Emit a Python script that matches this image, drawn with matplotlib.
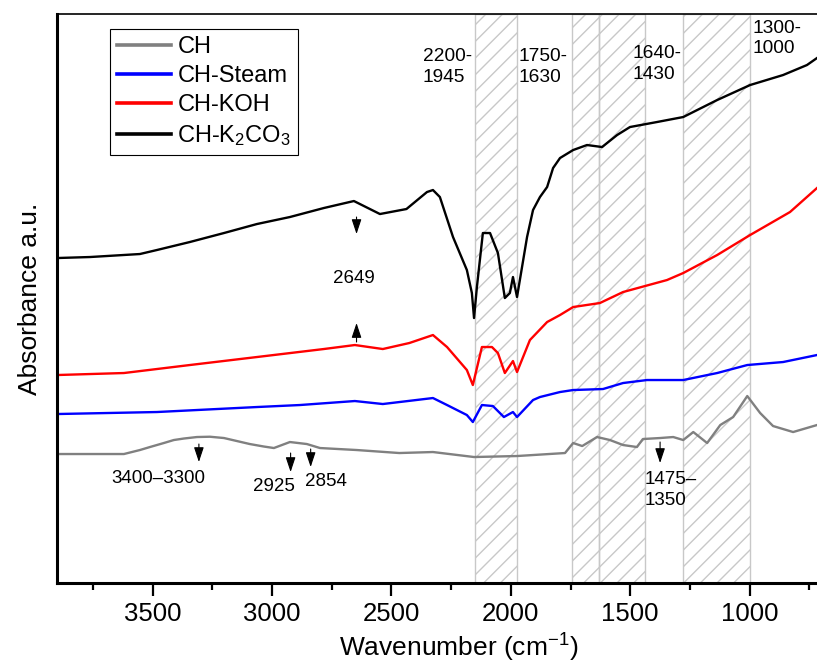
import matplotlib.pyplot as plt

plt.rcParams['font.family'] = ['Liberation Sans', 'DejaVu Sans']
plt.rcParams['mathtext.fontset'] = 'custom'
plt.rcParams['mathtext.rm'] = 'Liberation Sans'
plt.rcParams['mathtext.it'] = 'Liberation Sans:italic'
plt.rcParams['mathtext.default'] = 'regular'
plt.rcParams['hatch.linewidth'] = 1.0

# FTIR spectra (wavenumber in cm-1, absorbance in a.u.)
wn_ch = [3900, 3691, 3620, 3553, 3511, 3453, 3411, 3369, 3314, 3260, 3201, 3147,
         3093, 3034, 2992, 2925, 2854, 2799, 2645, 2467, 2326, 2154, 1974, 1773,
         1739, 1701, 1639, 1585, 1530, 1472, 1447, 1375, 1320, 1278, 1236, 1178,
         1123, 1069, 1010, 956, 902, 818, 718]
ab_ch = [1.29, 1.29, 1.29, 1.33, 1.36, 1.40, 1.43, 1.445, 1.46, 1.463, 1.45, 1.42,
         1.39, 1.365, 1.35, 1.41, 1.39, 1.35, 1.33, 1.30, 1.31, 1.26, 1.27, 1.30,
         1.40, 1.37, 1.46, 1.43, 1.38, 1.36, 1.44, 1.45, 1.46, 1.43, 1.51, 1.40,
         1.58, 1.66, 1.87, 1.70, 1.57, 1.51, 1.58]

wn_steam = [3900, 3482, 3063, 2883, 2653, 2536, 2326, 2267, 2184, 2159, 2121, 2075,
            2029, 1991, 1974, 1907, 1878, 1794, 1739, 1614, 1530, 1430, 1278, 1136,
            1010, 860, 718]
ab_steam = [1.69, 1.71, 1.76, 1.78, 1.82, 1.79, 1.85, 1.78, 1.68, 1.61, 1.78, 1.77,
            1.66, 1.71, 1.66, 1.83, 1.86, 1.91, 1.93, 1.94, 2.00, 2.03, 2.03, 2.10,
            2.18, 2.21, 2.28]

wn_koh = [3900, 3620, 3344, 3063, 2783, 2653, 2536, 2425, 2326, 2267, 2184, 2159,
          2121, 2079, 2054, 2025, 1991, 1974, 1920, 1848, 1794, 1739, 1627, 1530,
          1346, 1278, 1136, 998, 831, 718]
ab_koh = [2.08, 2.10, 2.18, 2.26, 2.34, 2.38, 2.34, 2.40, 2.48, 2.36, 2.13, 1.98,
          2.36, 2.36, 2.30, 2.10, 2.22, 2.11, 2.43, 2.61, 2.68, 2.76, 2.80, 2.91,
          3.03, 3.10, 3.28, 3.48, 3.71, 3.95]

wn_k2co3 = [3900, 3762, 3553, 3482, 3344, 3201, 3063, 2925, 2783, 2657, 2548, 2437,
            2351, 2326, 2297, 2242, 2184, 2163, 2154, 2142, 2117, 2087, 2054, 2025,
            2004, 1991, 1974, 1932, 1907, 1878, 1848, 1823, 1794, 1739, 1681, 1618,
            1555, 1501, 1388, 1278, 1136, 998, 860, 760, 718]
ab_k2co3 = [3.25, 3.26, 3.29, 3.33, 3.41, 3.50, 3.59, 3.66, 3.75, 3.82, 3.69, 3.74,
            3.91, 3.93, 3.86, 3.46, 3.13, 2.90, 2.65, 2.96, 3.50, 3.50, 3.30, 2.85,
            2.90, 3.06, 2.86, 3.46, 3.73, 3.86, 3.96, 4.15, 4.25, 4.33, 4.38, 4.36,
            4.48, 4.56, 4.61, 4.66, 4.83, 4.98, 5.08, 5.18, 5.25]

bands = [(2150, 1975), (1745, 1630), (1630, 1440), (1280, 1000)]
band_labels = ['2200-\n1945', '1750-\n1630', '1640-\n1430', '1300-\n1000']

fig = plt.figure(figsize=(8.17, 6.71), dpi=100)
ax = fig.add_axes([0.0698, 0.1311, 0.9302, 0.848])

for lo, hi in bands:
    ax.axvspan(lo, hi, facecolor='none', edgecolor='#c8c8c8', hatch='//', lw=1, zorder=0)

ax.plot(wn_ch, ab_ch, color='#808080', lw=1.7, label='CH')
ax.plot(wn_steam, ab_steam, color='#0000ff', lw=1.7, label='CH-Steam')
ax.plot(wn_koh, ab_koh, color='#ff0000', lw=1.7, label='CH-KOH')
ax.plot(wn_k2co3, ab_k2co3, color='black', lw=1.7, label='CH-K$_2$CO$_3$')

# band ranges on top
ax.text(2369, 5.16, band_labels[0], fontsize=13.8, ha='left', va='center', linespacing=1.25)
ax.text(1966, 5.16, band_labels[1], fontsize=13.8, ha='left', va='center', linespacing=1.25)
ax.text(1491, 5.19, band_labels[2], fontsize=13.8, ha='left', va='center', linespacing=1.25)
ax.text(989, 5.445, band_labels[3], fontsize=13.8, ha='left', va='center', linespacing=1.25)

# peak markers
arr = dict(arrowstyle='-|>,head_length=0.6,head_width=0.2', color='black', lw=0.8,
           mutation_scale=15, shrinkA=0, shrinkB=0)
ax.annotate('', xy=(2646, 3.49), xytext=(2646, 3.66), arrowprops=arr)
ax.annotate('', xy=(2646, 2.60), xytext=(2646, 2.41), arrowprops=arr)
ax.text(2657, 3.05, '2649', fontsize=13.5, ha='center', va='center')

ax.annotate('', xy=(3306, 1.21), xytext=(3306, 1.39), arrowprops=arr)
ax.text(3477, 1.05, '3400\u20133300', fontsize=13.5, ha='center', va='center')
ax.annotate('', xy=(2922, 1.11), xytext=(2922, 1.30), arrowprops=arr)
ax.text(2992, 0.97, '2925', fontsize=13.5, ha='center', va='center')
ax.annotate('', xy=(2838, 1.16), xytext=(2838, 1.34), arrowprops=arr)
ax.text(2774, 1.02, '2854', fontsize=13.5, ha='center', va='center')
ax.annotate('', xy=(1375, 1.20), xytext=(1375, 1.41), arrowprops=arr)
ax.text(1438, 0.93, '1475\u2013\n1350', fontsize=13.5, ha='left', va='center', linespacing=1.25)

ax.set_xlim(3900, 718)
ax.set_ylim(0, 5.69)
ax.set_xticks([3500, 3000, 2500, 2000, 1500, 1000])
ax.set_xticks([3750, 3250, 2750, 2250, 1750, 1250, 750], minor=True)
ax.set_yticks([])
ax.tick_params(axis='x', which='major', length=9, width=1.6, labelsize=18.5, pad=5)
ax.tick_params(axis='x', which='minor', length=5, width=1.6)

ax.spines['right'].set_visible(False)
ax.spines['top'].set_linewidth(1.2)
ax.spines['left'].set_linewidth(2.2)
ax.spines['bottom'].set_linewidth(2.2)

ax.set_xlabel('Wavenumber (cm$^{-1}$)', fontsize=19)
ax.xaxis.set_label_coords(0.528, -0.086)
ax.set_ylabel('Absorbance a.u.', fontsize=19)
ax.yaxis.set_label_coords(-0.02, 0.5)

leg = ax.legend(loc='upper left', bbox_to_anchor=(0.0697, 0.9736), borderaxespad=0,
                fontsize=17, fancybox=False, edgecolor='black', framealpha=1,
                handlelength=2.3, handletextpad=0.25, labelspacing=0.3, borderpad=0.3)
leg.get_frame().set_linewidth(0.8)
for ln in leg.get_lines():
    ln.set_linewidth(2.6)

plt.savefig('out.png', dpi=100)
plt.close()
